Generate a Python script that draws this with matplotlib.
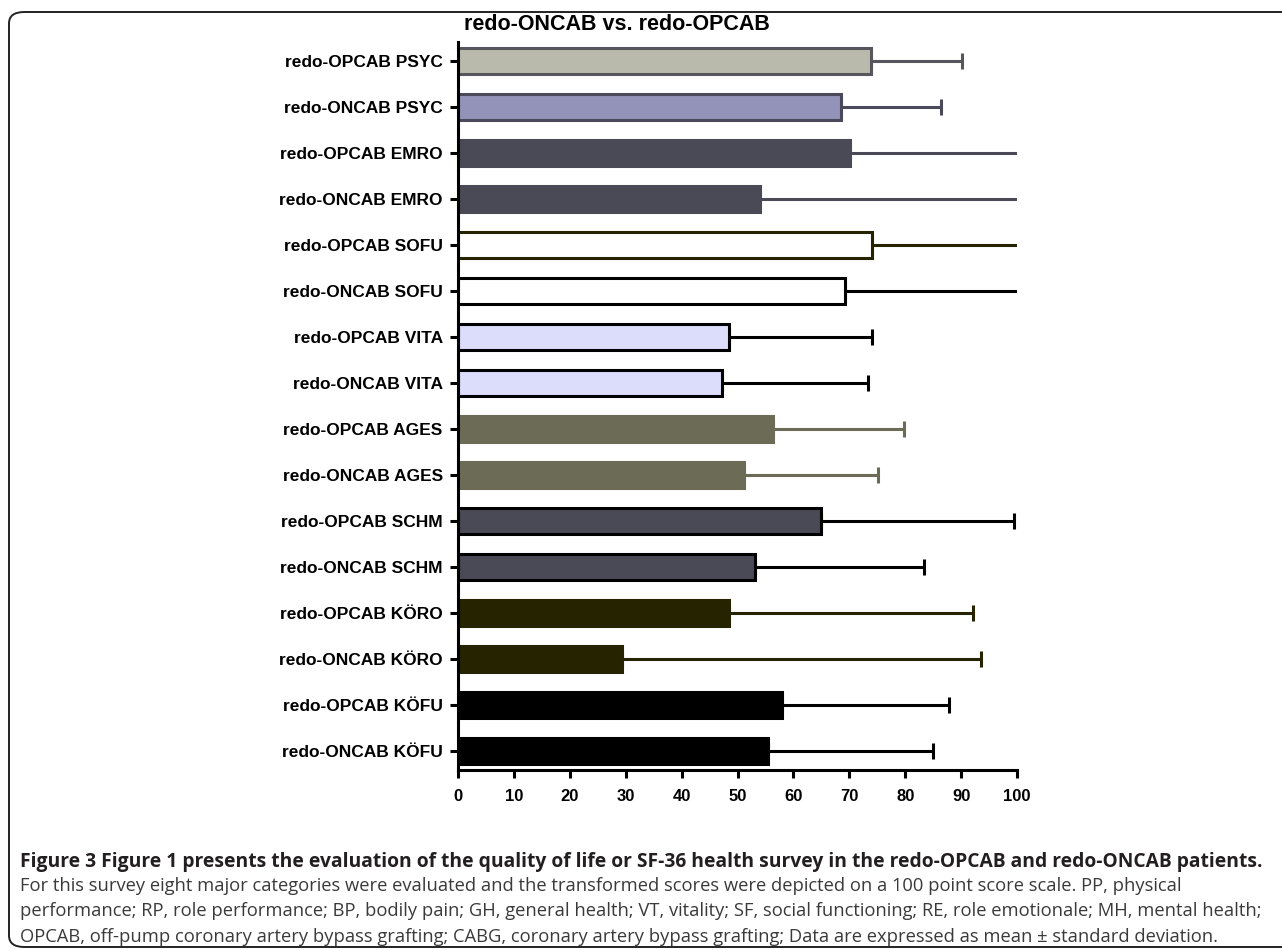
import matplotlib
matplotlib.use("Agg")
import matplotlib.pyplot as plt
from matplotlib.patches import FancyBboxPatch

plt.rcParams['font.family'] = ['Liberation Sans', 'DejaVu Sans']

# Categories, top to bottom
labels = [
    "redo-OPCAB PSYC", "redo-ONCAB PSYC",
    "redo-OPCAB EMRO", "redo-ONCAB EMRO",
    "redo-OPCAB SOFU", "redo-ONCAB SOFU",
    "redo-OPCAB VITA", "redo-ONCAB VITA",
    "redo-OPCAB AGES", "redo-ONCAB AGES",
    "redo-OPCAB SCHM", "redo-ONCAB SCHM",
    "redo-OPCAB KÖRO", "redo-ONCAB KÖRO",
    "redo-OPCAB KÖFU", "redo-ONCAB KÖFU",
]
means = [73.9, 68.6, 70.2, 54.0, 74.1, 69.2, 48.5, 47.3, 56.3, 51.1,
         64.9, 53.2, 48.4, 29.4, 58.0, 55.4]
sds = [16.3, 17.8, 36.0, 48.0, 30.0, 34.0, 25.6, 26.1, 23.5, 24.1,
       34.5, 30.1, 43.7, 64.2, 29.8, 29.6]

fills = ["#b9baab", "#9393b9", "#4a4a57", "#4a4a57", "#ffffff", "#ffffff",
         "#dcdcfb", "#dcdcfb", "#6b6b56", "#6b6b56", "#4a4a57", "#4a4a57",
         "#262400", "#262400", "#000000", "#000000"]
edges = ["#56565c", "#4a4a5a", "#4a4a57", "#4a4a57", "#262400", "#000000",
         "#000000", "#000000", "#6b6b56", "#6b6b56", "#000000", "#000000",
         "#262400", "#262400", "#000000", "#000000"]

xticks = list(range(0, 101, 10))

title = "redo-ONCAB vs. redo-OPCAB"
caption_bold = ("Figure 3 Figure 1 presents the evaluation of the quality of life or SF-36 "
                "health survey in the redo-OPCAB and redo-ONCAB patients.")
caption_lines = [
    "For this survey eight major categories were evaluated and the transformed scores were "
    "depicted on a 100 point score scale. PP, physical",
    "performance; RP, role performance; BP, bodily pain; GH, general health; VT, vitality; "
    "SF, social functioning; RE, role emotionale; MH, mental health;",
    "OPCAB, off-pump coronary artery bypass grafting; CABG, coronary artery bypass grafting; "
    "Data are expressed as mean \u00b1 standard deviation.",
]

W, H = 1282, 950
fig = plt.figure(figsize=(W / 100, H / 100), dpi=100)

# rounded frame around the figure panel (open to the right)
frame = FancyBboxPatch((9 / W, 3 / H), 1.2, (H - 12 - 3) / H,
                       boxstyle="round,pad=0,rounding_size=0.012",
                       transform=fig.transFigure, fill=False,
                       edgecolor="#222222", linewidth=1.4)
fig.patches.append(frame)

ax = fig.add_axes([458 / W, 1 - 770 / H, (1017 - 458) / W, (770 - 42) / H])
ypos = list(range(len(labels)))
bar_h = 0.56
for i in ypos:
    ax.barh(i, means[i], height=bar_h, color=fills[i], edgecolor=edges[i],
            linewidth=2.2, zorder=2)
    ax.errorbar(means[i], i, xerr=[[0], [sds[i]]], fmt="none", ecolor=edges[i],
                elinewidth=2.2, capsize=6, capthick=2.2, zorder=1)

ax.set_xlim(0, 100)
ax.set_ylim(len(labels) - 0.58, -0.42)
ax.set_xticks(xticks)
ax.set_xticklabels([str(v) for v in xticks], fontsize=12, fontweight="bold")
ax.set_yticks(ypos)
ax.set_yticklabels(labels, fontsize=12.5, fontweight="bold")
for s in ("top", "right"):
    ax.spines[s].set_visible(False)
for s in ("left", "bottom"):
    ax.spines[s].set_linewidth(2.2)
ax.tick_params(axis="both", direction="out", width=2.2, length=6, colors="black")
ax.tick_params(axis="x", pad=8)
ax.tick_params(axis="y", pad=5)

fig.text(617 / W, 1 - 24 / H, title, ha="center", va="center",
         fontsize=15.5, fontweight="bold")

cap_font = ["Open Sans", "DejaVu Sans"]
fig.text(20 / W, 1 - 862 / H, caption_bold, ha="left", va="center",
         fontsize=13.9, fontweight="bold", family=cap_font, color="#231f20")
for k, line in enumerate(caption_lines):
    fig.text(20 / W, 1 - (886 + 25.5 * k) / H, line, ha="left", va="center",
             fontsize=13.2, family=cap_font, color="#3a3a3a")

fig.savefig("out.png", dpi=100)
